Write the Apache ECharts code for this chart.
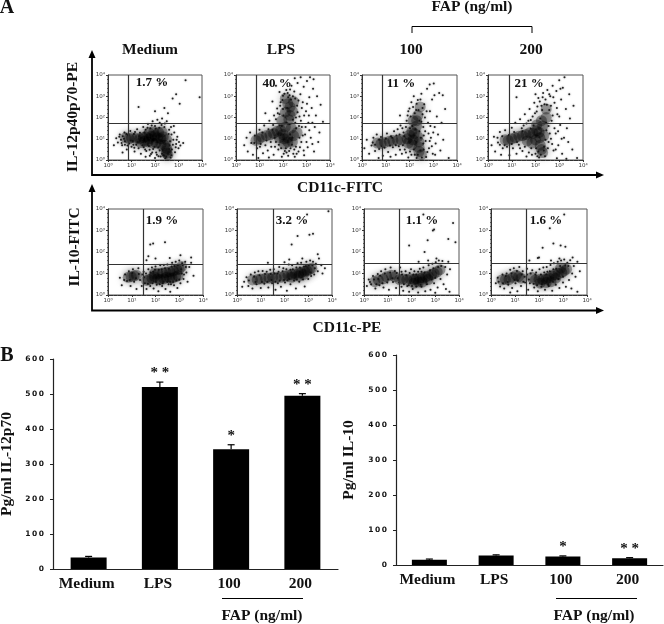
<!DOCTYPE html>
<html><head><meta charset="utf-8">
<script src="https://cdn.jsdelivr.net/npm/echarts@6/dist/echarts.min.js"></script>
<style>html,body{margin:0;padding:0;background:#fff}#c{width:664px;height:624px}</style>
</head><body><div id="c"></div>
<script>
// ---------- values ----------
const barCategories = ['Medium','LPS','100','200'];
const il12Values = [33,520,342,495];
const il12Errors = [3,14,13,6];
const il12Stars = ['','* *','*','* *'];
const il10Values = [15,27,24,19];
const il10Errors = [2,2,2,2];
const il10Stars = ['','','*','* *'];
const flowTicks = ['10\u2070','10\u00b9','10\u00b2','10\u00b3','10\u2074'];

// flow panels: values in decades (log10 of fluorescence)
const t1Gate=[0.85,1.72], t2Gate=[0.85,1.72], t3Gate=[0.87,1.75], t4Gate=[0.88,1.75];
const b1Gate=[1.48,1.45], b2Gate=[1.52,1.45], b3Gate=[1.48,1.48], b4Gate=[1.46,1.48];

const t1Core=[[0.75,1.05],[0.9,1.0],[1.0,1.05],[1.2,1.02],[1.35,1.0],[1.5,1.05],[1.6,1.1],[1.75,1.0],[1.85,1.12],[2.0,1.15],[2.1,1.05],[2.25,1.0],[2.35,1.1],[2.5,0.95],[1.55,0.88],[1.7,0.85],[1.9,0.8],[2.05,0.8],[2.25,0.72],[2.4,0.7],[2.5,0.55],[2.5,0.45],[2.48,0.32],[2.55,0.25],[1.75,1.28],[1.95,1.32],[2.15,1.3],[2.3,1.32],[1.4,0.82]];
const t1Dots=[[0.35,1.02],[0.42,0.82],[0.5,1.2],[0.55,0.95],[0.6,0.7],[0.63,1.12],[0.7,1.3],[0.72,0.88],[0.8,0.5],[0.86,1.18],[0.9,0.78],[0.95,1.37],[1.0,0.62],[1.05,0.9],[1.1,1.22],[1.13,0.4],[1.2,0.72],[1.24,1.45],[1.3,0.55],[1.36,1.28],[1.4,0.3],[1.45,0.98],[1.5,1.55],[1.52,0.6],[1.6,1.42],[1.63,0.42],[1.7,1.7],[1.74,0.66],[1.8,1.5],[1.83,0.28],[1.9,1.82],[1.92,0.52],[2.0,1.6],[2.05,0.35],[2.1,1.9],[2.14,0.6],[2.2,1.75],[2.24,0.16],[2.3,1.95],[2.33,0.45],[2.4,1.55],[2.44,0.08],[2.5,1.82],[2.55,0.3],[2.6,1.42],[2.62,0.7],[2.66,0.12],[2.7,1.2],[2.72,0.5],[2.78,0.95],[2.8,1.6],[2.85,0.36],[2.9,0.75],[2.95,1.1],[3.0,0.55],[3.2,0.8],[2.0,2.3],[2.4,2.45],[2.75,2.9],[2.9,3.1],[3.05,2.65],[2.2,3.6],[3.3,3.75],[2.55,2.2],[1.3,2.5],[3.9,2.95],[1.6,0.15],[2.0,0.1],[2.35,0.22],[0.62,0.35],[0.25,0.7]];
const t1Fill=[[0.48,1.1],[0.58,0.8],[0.68,1.0],[0.78,1.22],[0.83,0.68],[0.97,0.92],[1.08,0.72],[1.15,1.32],[1.27,0.85],[1.33,1.12],[1.47,0.7],[1.55,1.3],[1.58,0.5],[1.68,1.52],[1.68,0.72],[1.77,0.48],[1.86,1.62],[1.88,0.35],[1.98,0.62],[2.03,1.47],[2.08,0.25],[2.18,1.52],[2.2,0.45],[2.28,1.65],[2.3,0.3],[2.38,0.88],[2.42,1.72],[2.48,0.15],[2.58,1.22],[2.6,0.52],[2.64,0.88],[2.68,1.55],[2.7,0.22],[2.76,0.72],[2.82,1.3],[2.88,0.6],[2.92,0.95],[3.08,0.68],[3.02,0.85],[1.12,0.58],[0.72,0.72],[2.58,0.38],[2.4,0.2],[2.15,0.18],[1.78,0.2]];

const t2Core=[[0.85,0.92],[0.98,1.0],[1.1,1.08],[1.3,1.15],[1.45,1.18],[1.6,1.25],[1.75,1.35],[1.9,1.4],[2.0,1.2],[2.2,1.05],[2.1,1.55],[2.35,1.5],[1.95,1.85],[2.25,1.9],[2.1,2.25],[2.3,2.1],[2.4,2.3],[2.2,2.65],[2.45,2.75],[2.05,0.75],[2.2,0.85],[2.4,0.85],[2.6,1.3],[1.85,1.05],[2.1,2.9],[2.3,2.5],[2.05,1.0],[2.45,1.15]];
const t2Dots=[[0.35,0.7],[0.45,1.05],[0.5,0.4],[0.6,1.3],[0.65,0.8],[0.72,0.25],[0.8,1.15],[0.9,0.55],[1.0,1.42],[1.05,0.75],[1.15,0.32],[1.2,1.62],[1.3,0.92],[1.35,0.45],[1.42,1.85],[1.5,0.62],[1.55,1.42],[1.6,0.25],[1.62,2.1],[1.7,0.85],[1.75,2.42],[1.8,0.5],[1.85,1.62],[1.9,2.72],[1.95,0.15],[2.0,3.02],[2.02,2.1],[2.08,0.42],[2.14,3.3],[2.18,2.45],[2.22,0.2],[2.28,3.05],[2.32,0.55],[2.36,3.5],[2.4,1.05],[2.44,0.3],[2.48,3.22],[2.52,1.75],[2.55,0.62],[2.6,2.55],[2.62,3.62],[2.66,0.4],[2.7,2.05],[2.74,3.1],[2.78,0.85],[2.8,1.55],[2.84,2.72],[2.88,3.45],[2.9,0.22],[2.94,1.2],[2.98,2.3],[3.02,3.72],[3.05,0.6],[3.08,1.75],[3.12,2.95],[3.15,3.9],[3.18,1.05],[3.22,2.45],[3.28,3.35],[3.32,0.4],[3.35,1.55],[3.4,2.1],[3.45,3.0],[3.5,0.85],[3.55,1.3],[3.6,2.6],[3.7,1.8],[3.3,3.8],[1.25,2.2],[1.55,2.75],[1.85,3.2],[1.7,3.5],[2.5,3.85],[2.75,3.9],[2.3,1.2],[1.65,1.05],[2.55,2.0],[1.85,2.15],[2.7,1.05],[2.15,0.35],[2.5,0.15],[1.4,0.12],[0.95,0.1]];
const t2Fill=[[0.78,0.8],[1.02,0.62],[1.12,1.3],[1.25,0.7],[1.38,1.45],[1.48,0.85],[1.58,1.65],[1.66,0.62],[1.7,1.92],[1.78,2.2],[1.82,0.72],[1.88,2.55],[1.92,0.55],[1.98,2.82],[2.03,0.3],[2.06,3.12],[2.12,0.55],[2.2,3.15],[2.22,2.95],[2.26,0.42],[2.3,3.32],[2.34,2.85],[2.38,0.72],[2.42,3.0],[2.48,0.5],[2.52,2.9],[2.56,1.5],[2.58,0.3],[2.62,2.25],[2.66,2.8],[2.68,1.6],[2.72,0.6],[2.76,1.85],[2.8,2.45],[2.84,1.15],[2.88,0.45],[2.9,2.1],[2.96,1.55],[3.0,0.85],[3.02,2.65],[3.12,1.4],[3.1,2.1],[3.25,1.75],[3.25,0.75],[1.95,1.6],[2.0,2.4],[2.15,1.75],[2.28,1.7],[2.42,1.9],[2.35,0.95]];

const t3Core=[[0.65,0.8],[0.8,0.78],[0.95,0.82],[1.15,0.88],[1.3,0.92],[1.5,0.92],[1.65,0.95],[1.9,1.0],[2.15,0.95],[2.35,1.1],[2.0,1.18],[2.2,1.25],[2.1,1.35],[2.3,1.6],[2.15,1.85],[2.3,1.85],[2.35,2.1],[2.45,2.5],[1.95,0.8],[2.1,0.72],[2.4,0.6],[2.5,0.25],[2.4,0.85],[2.4,0.4]];
const t3Dots=[[0.1,0.55],[0.2,0.95],[0.3,0.3],[0.4,0.68],[0.48,1.05],[0.55,0.42],[0.62,1.2],[0.72,0.52],[0.8,1.08],[0.88,0.2],[0.95,0.58],[1.05,1.25],[1.1,0.38],[1.22,1.12],[1.3,0.6],[1.35,1.35],[1.42,0.25],[1.5,1.45],[1.55,0.65],[1.62,1.62],[1.68,0.3],[1.75,1.3],[1.8,0.5],[1.88,1.85],[1.92,2.1],[1.95,0.12],[2.0,2.42],[2.02,0.4],[2.08,2.72],[2.12,1.6],[2.18,3.0],[2.22,0.25],[2.28,2.35],[2.3,0.1],[2.35,2.82],[2.42,1.85],[2.46,0.45],[2.5,3.12],[2.55,2.15],[2.58,0.78],[2.62,2.62],[2.66,1.35],[2.7,0.14],[2.74,3.35],[2.78,1.75],[2.82,0.55],[2.86,2.3],[2.9,1.05],[2.95,2.85],[2.98,0.3],[3.02,3.6],[3.06,1.55],[3.1,0.78],[3.15,2.05],[3.2,1.2],[3.25,3.15],[3.3,0.45],[3.35,1.75],[3.42,0.95],[3.5,2.4],[3.05,3.05],[2.85,3.55],[3.4,3.05],[1.6,2.1],[0.7,0.1],[1.2,0.15],[3.65,0.1],[2.0,0.85],[2.6,1.15],[1.78,1.12]];
const t3Fill=[[0.45,0.82],[0.55,0.72],[0.72,0.95],[0.85,0.65],[1.0,1.0],[1.18,0.68],[1.27,1.05],[1.42,0.7],[1.45,1.15],[1.58,1.2],[1.6,0.48],[1.7,1.5],[1.72,0.7],[1.85,1.55],[1.85,0.35],[1.95,2.3],[2.02,1.5],[2.05,2.05],[2.08,0.25],[2.15,2.5],[2.18,0.5],[2.22,2.2],[2.25,1.45],[2.3,2.65],[2.35,0.25],[2.38,2.35],[2.42,1.35],[2.46,2.85],[2.5,1.8],[2.52,0.12],[2.55,2.45],[2.6,0.5],[2.65,2.0],[2.68,0.9],[2.72,2.3],[2.75,0.38],[2.8,1.25],[2.85,0.9],[2.88,1.6],[2.94,0.65],[3.0,1.3],[3.08,0.25],[2.58,1.55],[2.48,1.05],[2.28,0.85]];

const t4Core=[[0.72,0.95],[0.85,0.92],[1.0,1.0],[1.15,1.05],[1.3,1.12],[1.45,1.15],[1.6,1.2],[1.75,1.28],[1.9,1.25],[2.05,1.38],[2.15,1.3],[2.35,1.15],[2.0,0.95],[2.18,1.05],[2.3,1.6],[2.05,1.65],[2.25,1.85],[2.45,2.0],[2.2,0.7],[2.3,0.35],[2.25,0.5],[1.65,0.9],[1.85,0.8],[2.45,2.4]];
const t4Dots=[[0.15,0.7],[0.25,1.1],[0.3,0.4],[0.42,0.82],[0.5,1.32],[0.55,0.25],[0.62,0.55],[0.72,1.4],[0.8,0.62],[0.9,0.22],[1.0,1.52],[1.05,0.55],[1.15,1.75],[1.2,0.3],[1.3,0.72],[1.35,1.92],[1.45,0.42],[1.5,1.62],[1.55,2.15],[1.62,0.16],[1.7,1.85],[1.75,2.4],[1.82,0.55],[1.88,2.05],[1.95,2.7],[2.0,0.3],[2.05,2.28],[2.12,2.92],[2.15,0.12],[2.2,1.95],[2.25,2.55],[2.32,3.15],[2.36,0.62],[2.42,2.85],[2.46,1.4],[2.5,3.3],[2.55,0.85],[2.58,2.35],[2.62,3.0],[2.68,1.85],[2.72,3.5],[2.76,0.45],[2.8,2.7],[2.85,1.25],[2.88,3.25],[2.92,2.15],[2.96,0.7],[3.0,3.75],[3.04,1.65],[3.08,2.85],[3.12,0.3],[3.15,3.4],[3.2,1.05],[3.22,3.9],[3.28,2.4],[3.32,1.5],[3.38,0.85],[3.42,3.1],[3.45,1.95],[3.55,0.5],[3.6,2.55],[2.0,3.1],[1.2,2.95],[2.9,0.08],[3.3,0.06],[3.75,0.1],[1.8,1.48],[2.55,1.6],[1.45,1.35],[2.65,1.0]];
const t4Fill=[[0.4,1.05],[0.5,0.72],[0.6,1.12],[0.7,0.7],[0.88,1.18],[1.0,0.75],[1.1,1.32],[1.22,0.85],[1.35,0.55],[1.42,1.5],[1.55,0.62],[1.62,1.72],[1.72,0.35],[1.8,1.88],[1.85,0.25],[1.92,1.62],[1.98,2.2],[2.02,0.55],[2.08,2.52],[2.12,0.4],[2.18,2.75],[2.22,0.25],[2.28,2.35],[2.3,2.95],[2.35,0.45],[2.38,2.62],[2.42,0.95],[2.45,1.75],[2.48,2.6],[2.52,0.55],[2.58,3.1],[2.6,1.25],[2.65,2.55],[2.7,0.75],[2.72,2.1],[2.75,2.95],[2.8,1.5],[2.85,0.5],[2.9,2.45],[2.95,1.35],[3.0,2.05],[3.05,3.35],[3.1,1.0],[2.4,0.18],[2.08,0.18]];

const b1Core=[[0.85,0.82],[0.98,0.85],[1.1,0.9],[1.2,0.92],[1.62,0.68],[1.72,0.72],[1.85,0.78],[1.95,0.85],[2.08,0.75],[2.2,0.72],[2.35,0.75],[2.45,0.82],[2.6,0.8],[2.7,0.78],[2.85,0.85],[2.95,0.9],[1.95,1.0],[2.1,1.0],[2.3,1.02],[2.45,1.05],[2.6,1.08],[2.75,1.12],[2.9,1.18],[3.0,1.2],[3.1,1.32]];
const b1Dots=[[0.5,0.8],[0.58,0.45],[0.72,0.95],[0.8,0.65],[0.88,1.1],[0.95,0.42],[1.05,1.2],[1.1,0.62],[1.2,0.28],[1.28,1.25],[1.35,0.7],[1.42,0.42],[1.5,1.08],[1.55,0.55],[1.62,0.28],[1.7,1.2],[1.78,0.42],[1.85,1.28],[1.92,0.3],[2.0,1.32],[2.05,0.48],[2.12,0.18],[2.2,1.38],[2.28,0.42],[2.35,1.4],[2.42,0.28],[2.5,1.42],[2.55,0.5],[2.62,0.15],[2.7,1.5],[2.78,0.45],[2.85,1.55],[2.92,0.32],[3.0,1.6],[3.05,0.55],[3.12,1.48],[3.18,0.75],[3.25,1.55],[3.3,1.05],[3.35,0.62],[3.42,1.3],[3.5,1.5],[3.6,0.9],[1.62,1.62],[1.78,2.35],[1.9,2.4],[2.4,2.45],[1.7,1.8],[2.0,1.7],[3.05,1.85],[3.5,1.75],[2.6,1.72],[1.45,0.95],[1.9,1.08],[2.3,0.55],[2.65,0.5],[3.1,1.0]];
const b1Fill=[[0.68,0.7],[0.92,0.7],[1.02,1.02],[1.18,0.78],[1.3,0.98],[1.52,0.82],[1.6,1.0],[1.68,0.52],[1.8,1.05],[1.88,0.55],[1.98,1.18],[2.02,0.6],[2.14,1.18],[2.18,0.5],[2.26,1.2],[2.32,0.62],[2.4,1.25],[2.5,0.62],[2.56,1.22],[2.62,0.62],[2.68,1.32],[2.74,0.6],[2.8,1.35],[2.88,0.68],[2.94,1.4],[3.0,0.72],[3.08,1.2],[3.15,1.4],[3.2,0.95],[3.28,1.3]];

const b2Core=[[0.65,0.7],[0.85,0.72],[1.0,0.75],[1.2,0.78],[1.35,0.78],[1.5,0.82],[1.65,0.8],[1.85,0.82],[2.0,0.88],[2.15,0.92],[2.3,0.95],[2.45,0.98],[2.6,1.02],[2.7,1.05],[2.85,1.1],[2.95,1.12],[3.05,1.18],[3.15,1.25],[2.3,0.82],[2.6,0.88],[2.8,0.95]];
const b2Dots=[[0.22,0.38],[0.3,0.62],[0.4,0.82],[0.48,0.42],[0.58,0.95],[0.65,0.3],[0.75,1.05],[0.82,0.5],[0.9,1.1],[1.0,0.32],[1.08,1.12],[1.15,0.52],[1.25,1.08],[1.32,0.35],[1.4,1.18],[1.48,0.55],[1.55,1.2],[1.62,0.25],[1.72,0.55],[1.78,1.3],[1.85,0.38],[1.95,1.25],[2.02,0.58],[2.1,0.2],[2.18,1.42],[2.25,0.5],[2.32,1.38],[2.4,0.68],[2.48,0.3],[2.55,1.48],[2.62,0.62],[2.7,1.5],[2.78,0.72],[2.85,0.4],[2.92,1.55],[3.0,0.75],[3.08,1.6],[3.12,0.88],[3.2,1.55],[3.25,0.95],[3.32,1.45],[3.4,1.1],[3.45,1.7],[3.55,1.38],[3.6,1.0],[3.7,1.25],[1.3,1.5],[2.0,1.52],[2.3,2.35],[2.55,2.75],[3.2,2.85],[3.05,2.8],[2.95,3.75],[3.85,3.9],[2.2,1.65],[2.75,1.7],[3.4,1.9],[1.7,1.0],[2.2,0.75],[2.9,0.98]];
const b2Fill=[[0.5,0.68],[0.72,0.85],[0.78,0.6],[0.95,0.92],[1.05,0.6],[1.18,0.98],[1.28,0.62],[1.42,0.98],[1.45,0.7],[1.58,1.0],[1.62,0.62],[1.75,1.08],[1.8,0.68],[1.92,1.1],[1.98,0.7],[2.08,1.2],[2.12,0.68],[2.25,1.18],[2.35,1.2],[2.42,0.82],[2.5,1.28],[2.52,0.72],[2.65,1.28],[2.72,0.82],[2.82,1.32],[2.9,1.35],[3.02,1.38],[3.1,1.05],[3.18,1.38],[3.28,1.25]];

const b3Core=[[0.45,0.62],[0.6,0.7],[0.8,0.75],[0.95,0.85],[1.15,0.92],[1.3,0.85],[1.5,0.72],[1.65,0.75],[1.8,0.72],[1.95,0.75],[2.1,0.72],[2.2,0.75],[2.35,0.78],[2.45,0.8],[2.6,0.85],[2.7,0.88],[2.85,0.95],[2.95,1.0],[3.08,1.08],[3.2,1.18],[2.1,0.55],[2.3,0.6],[2.45,0.6],[2.7,0.72]];
const b3Dots=[[0.12,0.42],[0.2,0.72],[0.3,0.5],[0.38,0.88],[0.48,0.3],[0.58,0.98],[0.65,0.45],[0.72,1.1],[0.82,0.35],[0.9,1.2],[0.98,0.58],[1.05,0.25],[1.12,1.28],[1.22,0.6],[1.3,1.12],[1.35,0.32],[1.42,0.78],[1.52,1.28],[1.58,0.38],[1.65,0.2],[1.75,1.1],[1.82,0.42],[1.9,0.15],[1.98,1.2],[2.05,0.28],[2.12,1.1],[2.2,0.4],[2.28,0.12],[2.35,1.22],[2.42,0.38],[2.5,1.28],[2.58,0.18],[2.65,0.5],[2.72,1.38],[2.8,0.25],[2.88,1.45],[2.95,0.55],[3.02,1.52],[3.1,0.35],[3.15,1.6],[3.22,0.75],[3.3,1.58],[3.35,0.5],[3.42,1.3],[3.5,0.95],[3.55,1.55],[3.62,1.2],[3.45,0.28],[3.0,0.1],[3.6,0.15],[1.9,2.3],[2.55,2.0],[2.68,2.55],[3.55,2.6],[3.85,2.45],[2.9,3.0],[2.95,3.05],[3.75,3.35],[2.5,3.75],[2.3,1.55],[2.7,1.6],[3.05,1.7],[1.6,0.95],[2.2,0.95],[0.6,0.75]];
const b3Fill=[[0.25,0.6],[0.42,0.72],[0.52,0.5],[0.68,0.9],[0.78,0.55],[0.88,1.0],[1.02,0.72],[1.1,1.05],[1.2,0.78],[1.38,1.02],[1.48,0.58],[1.58,1.08],[1.68,0.5],[1.78,0.92],[1.88,0.45],[1.92,1.02],[2.02,0.42],[2.08,0.95],[2.18,0.55],[2.28,1.08],[2.38,0.48],[2.42,1.08],[2.55,1.05],[2.62,0.6],[2.78,1.15],[2.85,0.72],[2.92,1.25],[3.0,0.8],[3.12,1.3],[3.25,1.35]];

const b4Core=[[0.45,0.7],[0.6,0.72],[0.75,0.72],[0.9,0.82],[1.05,0.92],[1.15,0.85],[1.25,0.78],[1.7,0.82],[1.85,0.7],[2.0,0.72],[2.15,0.72],[2.3,0.75],[2.4,0.8],[2.55,0.88],[2.65,0.95],[2.8,1.0],[2.95,1.05],[3.05,1.12],[3.15,1.2],[2.05,0.55],[2.3,0.58],[2.5,0.62],[2.7,0.78],[2.9,1.25]];
const b4Dots=[[0.2,0.55],[0.28,0.8],[0.38,0.4],[0.48,0.95],[0.55,0.3],[0.65,1.0],[0.72,0.48],[0.8,1.18],[0.88,0.32],[0.95,1.25],[1.02,0.55],[1.1,0.18],[1.18,1.3],[1.25,0.42],[1.32,1.1],[1.42,0.58],[1.5,1.22],[1.55,0.25],[1.62,0.55],[1.72,1.15],[1.8,0.35],[1.88,1.05],[1.95,0.18],[2.02,1.2],[2.1,0.38],[2.18,1.28],[2.25,0.25],[2.32,1.3],[2.4,0.42],[2.48,1.4],[2.55,0.2],[2.62,1.48],[2.7,0.48],[2.78,1.55],[2.85,0.32],[2.92,1.6],[3.0,0.58],[3.05,1.65],[3.12,0.38],[3.18,1.5],[3.25,0.7],[3.3,1.62],[3.38,1.0],[3.45,1.35],[3.52,0.85],[3.6,1.55],[3.7,1.1],[1.6,1.6],[1.95,1.72],[2.0,1.75],[2.15,2.2],[2.6,2.4],[2.9,2.3],[3.1,2.25],[3.4,1.75],[3.05,3.75],[2.45,3.1],[2.5,1.6],[2.85,1.7],[3.35,0.3],[3.6,0.15],[0.8,0.12],[1.4,0.85],[2.3,0.95],[2.8,0.75]];
const b4Fill=[[0.32,0.62],[0.5,0.55],[0.62,0.88],[0.7,0.6],[0.85,1.0],[0.98,0.7],[1.08,1.12],[1.12,0.68],[1.28,0.95],[1.35,0.62],[1.5,0.95],[1.58,0.72],[1.65,1.0],[1.78,0.52],[1.85,0.95],[1.92,0.45],[2.08,0.95],[2.12,0.5],[2.22,1.05],[2.35,1.08],[2.38,0.5],[2.45,1.1],[2.58,0.62],[2.6,1.2],[2.72,1.22],[2.82,0.75],[2.88,1.35],[3.0,0.85],[3.1,1.38],[3.22,1.35]];

const panelTitles=['Medium','LPS','100','200'];
const topPercents=['1.7 %','40 %','11 %','21 %'];
const bottomPercents=['1.9 %','3.2 %','1.1 %','1.6 %'];

// ---------- layout ----------
const serif='"Liberation Serif","Times New Roman",serif';
const panels=[
 {left:108,top:75,w:94,h:85,core:t1Core,dots:t1Dots.concat(t1Fill),gate:t1Gate},
 {left:236,top:75,w:94,h:85,core:t2Core,dots:t2Dots.concat(t2Fill),gate:t2Gate},
 {left:362,top:75,w:95,h:85,core:t3Core,dots:t3Dots.concat(t3Fill),gate:t3Gate},
 {left:488,top:75,w:95,h:85,core:t4Core,dots:t4Dots.concat(t4Fill),gate:t4Gate},
 {left:108,top:209,w:95,h:86,core:b1Core,dots:b1Dots.concat(b1Fill),gate:b1Gate},
 {left:237,top:209,w:95,h:86,core:b2Core,dots:b2Dots.concat(b2Fill),gate:b2Gate},
 {left:364,top:209,w:95,h:86,core:b3Core,dots:b3Dots.concat(b3Fill),gate:b3Gate},
 {left:491,top:209,w:96,h:86,core:b4Core,dots:b4Dots.concat(b4Fill),gate:b4Gate}
];
const grids=[],xAxes=[],yAxes=[],series=[];
panels.forEach((p,i)=>{
  grids.push({left:p.left,top:p.top,width:p.w,height:p.h,outerBoundsMode:'none',show:true,borderColor:'#555',borderWidth:1,backgroundColor:'#fff'});
  const ax={min:0,max:4,interval:1,type:'value',gridIndex:i,splitLine:{show:false},
    axisLine:{onZero:false,lineStyle:{color:'#333',width:1}},
    axisTick:{length:2,lineStyle:{color:'#333'}},
    minorTick:{show:true,splitNumber:5,length:1,lineStyle:{color:'#555'}},
    axisLabel:{fontSize:5.5,margin:3,color:'#333',fontFamily:'DejaVu Sans',showMinLabel:true,showMaxLabel:true,formatter:v=>flowTicks[v]}};
  xAxes.push(ax); yAxes.push(Object.assign({},ax));
  series.push({type:'scatter',xAxisIndex:i,yAxisIndex:i,data:p.core,symbolSize:11,silent:true,z:2,
    itemStyle:{color:'rgba(0,0,0,0.42)',shadowBlur:8,shadowColor:'rgba(0,0,0,0.7)'}});
  series.push({type:'scatter',xAxisIndex:i,yAxisIndex:i,data:p.dots,symbolSize:2,silent:true,z:3,
    itemStyle:{color:'#111',opacity:0.9,shadowBlur:2,shadowColor:'rgba(0,0,0,0.5)'},
    markLine:{silent:true,symbol:'none',animation:false,label:{show:false},lineStyle:{color:'#333',width:1.2,type:'solid'},
      data:[{xAxis:p.gate[0]},{yAxis:p.gate[1]}]}});
});

function addBars(idx,left,top,w,h,values,errors,stars,yName,gap,barW,labelPad){
  grids.push({left,top,width:w,height:h,outerBoundsMode:'none'});
  xAxes.push({type:'category',gridIndex:idx,data:barCategories,
    axisLine:{lineStyle:{color:'#222',width:1.2}},axisTick:{length:2,lineStyle:{color:'#222'}},
    axisLabel:{color:'#111',fontFamily:serif,fontWeight:'bold',fontSize:15.5,margin:7,interval:0,padding:[0,labelPad,0,0]}});
  yAxes.push({type:'value',gridIndex:idx,min:0,max:600,interval:100,splitLine:{show:false},
    axisLine:{show:true,lineStyle:{color:'#222',width:1.2}},axisTick:{show:true,length:3,lineStyle:{color:'#222'}},
    axisLabel:{color:'#111',fontFamily:'DejaVu Sans',fontWeight:'bold',fontSize:7.5,margin:9,formatter:v=>String(v).split('').join('\u2009')},
    name:yName,nameLocation:'middle',nameGap:gap,nameRotate:90,
    nameTextStyle:{color:'#111',fontFamily:serif,fontWeight:'bold',fontSize:15.5}});
  series.push({type:'bar',xAxisIndex:idx,yAxisIndex:idx,data:values,barWidth:barW,silent:true,itemStyle:{color:'#000'}});
  series.push({type:'custom',xAxisIndex:idx,yAxisIndex:idx,silent:true,z:5,
    data:values.map((v,k)=>[k,v,errors[k]]),
    renderItem:(params,api)=>{
      const k=api.value(0),v=api.value(1),e=api.value(2);
      const a=api.coord([k,v]),b=api.coord([k,v+e]);
      return {type:'group',children:[
        {type:'line',shape:{x1:a[0],y1:a[1],x2:b[0],y2:b[1]},style:{stroke:'#000',lineWidth:1.2}},
        {type:'line',shape:{x1:b[0]-3.5,y1:b[1],x2:b[0]+3.5,y2:b[1]},style:{stroke:'#000',lineWidth:1.2}},
        {type:'text',style:{text:stars[k],x:b[0],y:b[1]-1,align:'center',verticalAlign:'bottom',fill:'#111',font:'bold 15px '+serif}}
      ]};
    }});
}
addBars(8,53,359,285,210,il12Values,il12Errors,il12Stars,'Pg/ml IL-12p70',38,36,4);
addBars(9,396,355,267,210,il10Values,il10Errors,il10Stars,'Pg/ml IL-10',39,35,4);

// ---------- page furniture ----------
const g=[];
const txt=(s,x,y,size,rot,align)=>g.push({type:'text',x,y,rotation:rot||0,silent:true,z:20,
  style:{text:s,align:align||'center',verticalAlign:'middle',fill:'#111',font:'bold '+size+'px '+serif}});
const stroke=(pts,w)=>g.push({type:'polyline',silent:true,shape:{points:pts},style:{stroke:'#000',lineWidth:w||1,fill:null}});
const arrow=(pts)=>g.push({type:'polygon',silent:true,shape:{points:pts},style:{fill:'#000'}});

txt('A',7,8,20); txt('B',7,356,20);
[150,281,411,531].forEach((x,i)=>txt(panelTitles[i],x,50,15.5));
txt('FAP (ng/ml)',472,7,15.5);
stroke([[412,33],[412,26.5],[532,26.5],[532,33]],1);
[[152,83],[277,84],[401,84],[529,84]].forEach((c,i)=>txt(topPercents[i],c[0],c[1],13));
[[162,221],[292,221],[422,221],[546,221]].forEach((c,i)=>txt(bottomPercents[i],c[0],c[1],13));
txt('IL-12p40p70-PE',73,117,15.5,Math.PI/2);
txt('IL-10-FITC',75,247,15.5,Math.PI/2);
txt('CD11c-FITC',340,188,15.5);
txt('CD11c-PE',347,328,15.5);
// L-shaped axes with arrows
stroke([[92,56],[92,175],[598,175]],1.8);
arrow([[92,50],[88.5,58],[95.5,58]]); arrow([[604,175],[596,171.5],[596,178.5]]);
stroke([[92,190],[92,310.5],[598,310.5]],1.8);
arrow([[92,184],[88.5,192],[95.5,192]]); arrow([[604,310.5],[596,307],[596,314]]);
// FAP brackets under bar charts
stroke([[222,598.5],[303,598.5]],1); txt('FAP (ng/ml)',262,616,15.5);
stroke([[556,598.5],[637,598.5]],1); txt('FAP (ng/ml)',594,616,15.5);

const chart=echarts.init(document.getElementById('c'),null,{renderer:'canvas'});
chart.setOption({animation:false,backgroundColor:'#fff',grid:grids,xAxis:xAxes,yAxis:yAxes,series,graphic:g});
</script></body></html>
